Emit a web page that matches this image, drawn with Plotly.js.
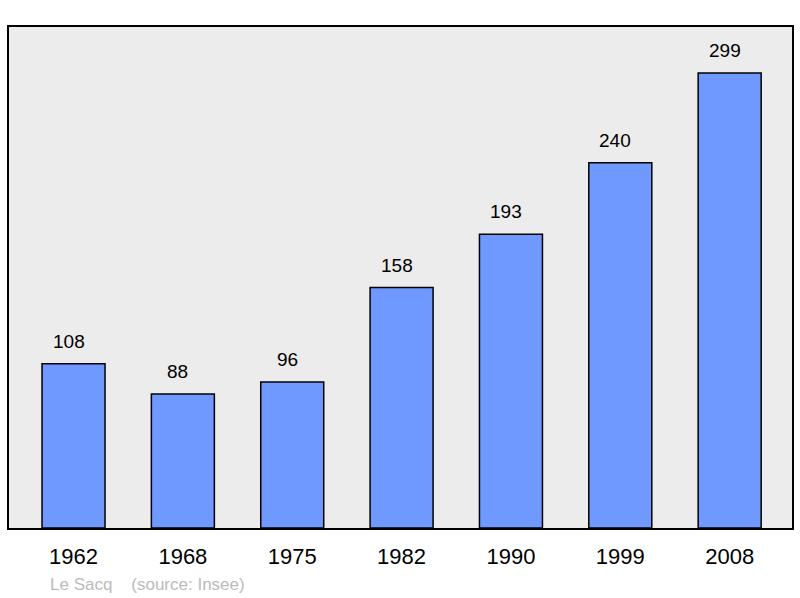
<!DOCTYPE html>
<html>
<head>
<meta charset="utf-8">
<script src="https://cdn.plot.ly/plotly-3.0.1.min.js"></script>
<style>html,body{margin:0;padding:0;background:#fff;}#chart{width:800px;height:598px;}</style>
</head>
<body>
<div id="chart"></div>
<script>
const years = ["1962", "1968", "1975", "1982", "1990", "1999", "2008"];
const population = [108, 88, 96, 158, 193, 240, 299];
const footerText = "Le Sacq&nbsp;&nbsp;&nbsp;&nbsp;(source: Insee)";

const trace = {
  type: "bar",
  x: years,
  y: population,
  width: 0.576,
  marker: {color: "#7099ff", line: {color: "#000", width: 1.5}},
  hoverinfo: "none"
};

const annotations = years.map((yr, i) => ({
  x: i, y: population[i], xref: "x", yref: "y",
  text: String(population[i]), showarrow: false,
  yanchor: "bottom", yshift: 10, xshift: -5,
  font: {family: "Liberation Sans, Arial, sans-serif", size: 19, color: "#000"}
}));
annotations.push({
  xref: "paper", yref: "paper", x: 0.05, y: -0.112, xanchor: "left", yanchor: "middle",
  text: footerText, showarrow: false,
  font: {family: "Liberation Sans, Arial, sans-serif", size: 17, color: "#bbbbbb"}
});

const layout = {
  width: 800, height: 598,
  margin: {l: 9, r: 8, t: 27, b: 70, pad: 0},
  paper_bgcolor: "#ffffff",
  plot_bgcolor: "#ececec",
  showlegend: false,
  font: {family: "Liberation Sans, Arial, sans-serif", color: "#000"},
  xaxis: {
    type: "category", range: [-0.59, 6.57],
    showgrid: false, zeroline: false,
    showline: true, mirror: true, linecolor: "#000", linewidth: 2,
    ticks: "", tickfont: {size: 22, color: "#000"}, ticklabelstandoff: 8
  },
  yaxis: {
    range: [0, 329.2], showgrid: false, zeroline: false,
    showline: true, mirror: true, linecolor: "#000", linewidth: 2,
    showticklabels: false, ticks: ""
  },
  annotations: annotations
};

Plotly.newPlot("chart", [trace], layout, {displayModeBar: false, staticPlot: true});
</script>
</body>
</html>
